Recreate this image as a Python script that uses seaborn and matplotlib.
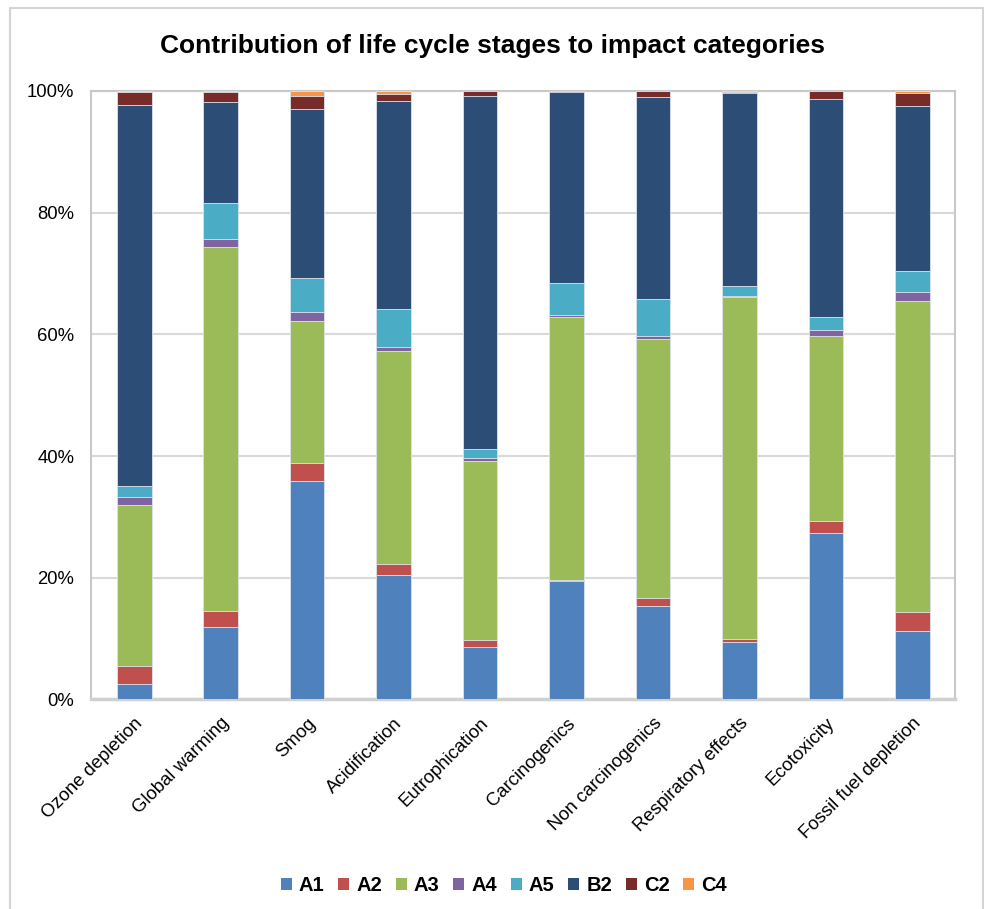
import numpy as np
import pandas as pd
import seaborn as sns
import matplotlib.pyplot as plt
from matplotlib.patches import Patch, Rectangle
from matplotlib.ticker import PercentFormatter

categories = ['Ozone depletion', 'Global warming', 'Smog', 'Acidification', 'Eutrophication',
              'Carcinogenics', 'Non carcinogenics', 'Respiratory effects', 'Ecotoxicity',
              'Fossil fuel depletion']
stages = ['A1', 'A2', 'A3', 'A4', 'A5', 'B2', 'C2', 'C4']

# contribution (%) of each stage
A1 = [2.5, 11.9, 35.9, 20.5, 8.7, 19.5, 15.3, 9.5, 27.3, 11.2]
A2 = [3.0, 2.6, 2.9, 1.8, 1.0, 0.2, 1.3, 0.4, 2.1, 3.2]
A3 = [26.4, 59.9, 23.4, 35.0, 29.5, 43.2, 42.5, 56.2, 30.4, 51.1]
A4 = [1.4, 1.2, 1.4, 0.7, 0.5, 0.2, 0.5, 0.2, 0.9, 1.4]
A5 = [1.8, 5.9, 5.7, 6.2, 1.4, 5.3, 6.2, 1.6, 2.1, 3.5]
B2 = [62.6, 16.6, 27.8, 34.1, 58.1, 31.5, 33.1, 31.7, 35.8, 27.2]
C2 = [2.2, 1.8, 2.1, 1.2, 0.8, 0.1, 1.0, 0.3, 1.4, 2.1]
C4 = [0.1, 0.1, 0.8, 0.5, 0.0, 0.0, 0.0, 0.1, 0.0, 0.3]

colors = ['#4F81BD', '#C0504D', '#9BBB59', '#8064A2', '#4BACC6', '#2C4D75', '#772C2A', '#F79646']

df = pd.DataFrame({'A1': A1, 'A2': A2, 'A3': A3, 'A4': A4, 'A5': A5,
                   'B2': B2, 'C2': C2, 'C4': C4}, index=categories)
df = df.div(df.sum(axis=1), axis=0) * 100
cum = df.cumsum(axis=1)

sns.set_theme(style='white')
plt.rcParams['font.family'] = ['Liberation Sans', 'DejaVu Sans']
plt.rcParams['text.color'] = 'black'

fig = plt.figure(figsize=(9.84, 9.09), dpi=100)
ax = fig.add_axes([0.0925, 0.2305, 0.8785, 0.6695])

# draw tallest cumulative layer first, then overlay shorter ones
for st, col in reversed(list(zip(stages, colors))):
    sns.barplot(x=categories, y=cum[st].values, color=col, width=0.4, saturation=1,
                edgecolor='#dfe6ef', linewidth=0.6, ax=ax, zorder=3)

ax.set_ylim(0, 100)
ax.set_xlim(-0.5, len(categories) - 0.5)
ax.set_yticks(np.arange(0, 101, 20))
ax.yaxis.set_major_formatter(PercentFormatter(decimals=0))
ax.grid(axis='y', color='#d9d9d9', linewidth=1.5, zorder=0)
ax.set_axisbelow(True)
for sp in ax.spines.values():
    sp.set_color('#c8c8c8')
    sp.set_linewidth(1.5)
ax.spines['bottom'].set_color('#d0d0d0')
ax.spines['bottom'].set_linewidth(2.5)
ax.tick_params(axis='y', length=0, pad=12, labelsize=13.3, labelcolor='black')
ax.tick_params(axis='x', length=0, pad=11, labelsize=13.3, labelcolor='black')
ax.set_xticks(range(len(categories)))
ax.set_xticklabels(categories, rotation=45, ha='right', va='top', rotation_mode='anchor')
ax.set_ylabel('')

fig.suptitle('Contribution of life cycle stages to impact categories', fontsize=19,
             fontweight='bold', y=0.963, color='black')

handles = [Patch(facecolor=c, edgecolor='none', label=s) for s, c in zip(stages, colors)]
fig.legend(handles=handles, loc='center', bbox_to_anchor=(0.512, 0.026), ncol=8,
           frameon=False, handlelength=0.55, handleheight=0.55, handletextpad=0.35,
           columnspacing=0.68, prop={'weight': 'bold', 'size': 14.5})

fig.patches.append(Rectangle((10 / 984, -0.01), 973 / 984, 1 - 8 / 909 + 0.01,
                             transform=fig.transFigure, fill=False,
                             edgecolor='#d4d4d4', linewidth=1.5))

fig.savefig('out.png', dpi=100)
